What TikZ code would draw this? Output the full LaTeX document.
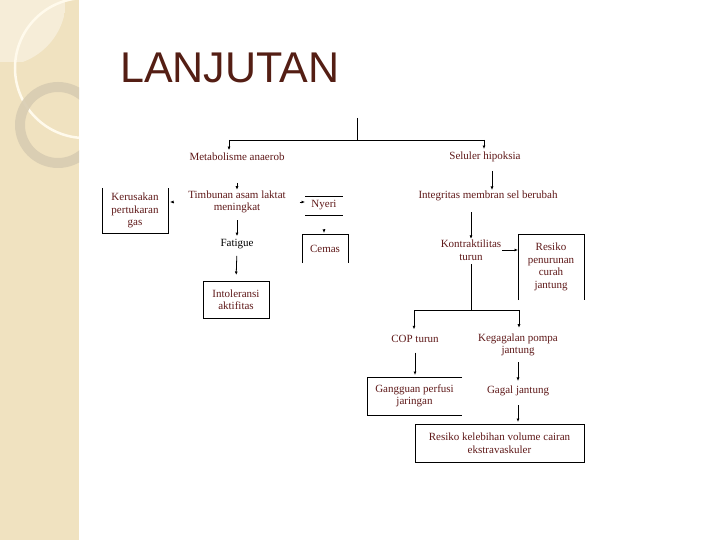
\documentclass[tikz,border=0pt]{standalone}
\usepackage{fontspec}
\setmainfont{Liberation Serif}
\newfontfamily\titlefont{Liberation Sans}
\usetikzlibrary{arrows.meta,calc}
\definecolor{beige}{RGB}{240,226,192}
\definecolor{beigelight}{RGB}{246,237,216}
\definecolor{ringc}{RGB}{216,204,178}
\definecolor{arcc}{RGB}{255,250,236}
\definecolor{titlec}{RGB}{84,30,20}
\definecolor{txtc}{RGB}{95,25,25}
\tikzset{
  lbl/.style={font=\fontsize{11}{12.5}\selectfont, text=txtc, align=center, inner sep=1pt, outer sep=0pt},
  arr/.style={-{Latex[length=3.5pt,width=3pt]}, line width=0.8pt},
  ln/.style={line width=0.8pt},
}
\begin{document}
\begin{tikzpicture}[x=1pt,y=-1pt]
\useasboundingbox (0,0) rectangle (720,540);
\fill[white] (0,0) rectangle (720,540);
% left decorative strip
\begin{scope}
  \clip (0,0) rectangle (79,540);
  \fill[beige] (0,0) rectangle (79,540);
  \begin{scope}
    \clip (0,0) circle (66);
    \fill[beigelight] (0,0) rectangle (65,62);
  \end{scope}
  \draw[arcc, line width=2.5pt] (85,68) circle (70);
  \fill[ringc, opacity=0.9, even odd rule] (58,125) circle (43) (58,125) circle (33);
\end{scope}
% title
\node[anchor=base west, font=\titlefont\fontsize{43}{43}\selectfont, text=titlec, inner sep=0pt] (title) at (120,83) {LANJUTAN};
% nodes
\node[lbl] (met) at (237,157) {Metabolisme anaerob};
\node[lbl] (sel) at (485,157) {Seluler hipoksia};
\node[lbl] (integ) at (488,196) {Integritas membran sel berubah};
\node[lbl] (tim) at (237,202) {Timbunan asam laktat\\meningkat};
\node[lbl, minimum width=66pt, minimum height=45pt] (ker) at (135,210.5) {Kerusakan\\pertukaran\\gas};
\node[lbl, minimum width=38pt, minimum height=19pt] (nyeri) at (324,205.5) {Nyeri};
\node[lbl, text=black] (fat) at (237,244) {Fatigue};
\node[lbl, draw, line width=0.8pt, minimum width=66pt, minimum height=37pt] (intol) at (236,299.5) {Intoleransi\\aktifitas};
\node[lbl, minimum width=46pt, minimum height=29pt] (cemas) at (325,248.5) {Cemas};
\node[lbl] (kon) at (471,250) {Kontraktilitas\\turun};
\node[lbl, minimum width=66pt, minimum height=66pt] (res) at (551,267) {Resiko\\penurunan\\curah\\jantung};
\node[lbl] (cop) at (415,339) {COP turun};
\node[lbl] (keg) at (518,345) {Kegagalan pompa\\jantung};
\node[lbl, minimum width=95pt, minimum height=38pt] (gang) at (414.5,396) {Gangguan perfusi\\jaringan};
\node[lbl] (gagal) at (518,391) {Gagal jantung};
\node[lbl, draw, line width=0.8pt, minimum width=169pt, minimum height=38pt] (reskel) at (499.5,443) {Resiko kelebihan volume cairan\\ekstravaskuler};
% partial box sides
\draw[ln] (ker.north west) -- (ker.south west) -- (ker.south east) -- (ker.north east);
\draw[ln] (nyeri.north west) -- (nyeri.north east);
\draw[ln] (nyeri.south west) -- (nyeri.south east);
\draw[ln] (cemas.south west) -- (cemas.north west) -- (cemas.north east) -- (cemas.south east);
\draw[ln] (res.south west) -- (res.north west) -- (res.north east) -- (res.south east);
\draw[ln] (gang.north east) -- (gang.north west) -- (gang.south west) -- (gang.south east);
% connectors
\coordinate (top) at (357,118);
\coordinate (j1) at (357,140);
\coordinate (jL) at (229,140);
\coordinate (jR) at (484,140);
\draw[ln] (top) -- (j1);
\draw[ln] (jL) -- (jR);
\draw[arr, shorten >=2pt] (jL) -- (jL |- met.north);
\draw[arr, shorten >=2pt] (jR) -- (jR |- sel.north);
\draw[arr, shorten <=8pt] ([xshift=7pt]sel.south) -- ([xshift=4pt]integ.north);
\draw[arr, shorten <=10pt] ([xshift=-17pt]integ.south) -- (kon.north);
\draw[arr, shorten <=21pt] (met.south) -- (tim.north);
\draw[arr, shorten <=13pt, shorten >=2pt] (tim.west) -- (tim.west -| ker.east);
\draw[arr, shorten <=13pt] (tim.east) -- (tim.east -| nyeri.west);
\draw[arr, shorten <=6pt, shorten >=2pt] (tim.south) -- (fat.north);
\draw[arr, shorten <=6pt, shorten >=6pt] (fat.south) -- (intol.north);
\draw[arr, shorten <=14pt, shorten >=1pt] (nyeri.south) -- (nyeri.south |- cemas.north);
\draw[arr] (kon.east) -- (kon.east -| res.west);
\coordinate (j2) at (471,310);
\coordinate (j2L) at (414,310);
\coordinate (j2R) at (519,310);
\draw[ln, shorten <=3pt] (kon.south) -- (j2);
\draw[ln] (j2L) -- (j2R);
\draw[arr, shorten >=5pt] (j2L) -- (j2L |- cop.north);
\draw[arr, shorten >=5pt] (j2R) -- (j2R |- keg.north);
\draw[arr, shorten <=9pt, shorten >=2pt] (cop.south) -- (cop.south |- gang.north);
\draw[arr, shorten <=5pt, shorten >=4pt] (keg.south) -- (gagal.north);
\draw[arr, shorten <=8pt, shorten >=2pt] (gagal.south) -- (gagal.south |- reskel.north);
\end{tikzpicture}
\end{document}
